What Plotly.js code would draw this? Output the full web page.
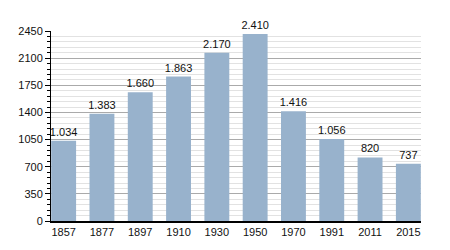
<!DOCTYPE html>
<html>
<head>
<meta charset="utf-8">
<script src="https://cdn.plot.ly/plotly-3.0.1.min.js"></script>
<style>html,body{margin:0;padding:0;background:#fff;}#chart{width:450px;height:250px;}</style>
</head>
<body>
<div id="chart"></div>
<script>
var years = ["1857","1877","1897","1910","1930","1950","1970","1991","2011","2015"];
var population = [1034, 1383, 1660, 1863, 2170, 2410, 1416, 1056, 820, 737];
var yTicks = [0, 350, 700, 1050, 1400, 1750, 2100, 2450];

var trace = {
  type: 'bar',
  x: years,
  y: population,
  marker: {color: '#98b2cc'},
  texttemplate: '%{y:,}',
  textposition: 'outside',
  constraintext: 'none',
  cliponaxis: false,
  textfont: {family: 'Liberation Sans, Arial, sans-serif', size: 11, color: '#111'},
  hoverinfo: 'none'
};

var layout = {
  width: 450, height: 250,
  margin: {l: 51, r: 29, t: 31, b: 29},
  separators: ',.',
  showlegend: false,
  bargap: 0.35,
  paper_bgcolor: '#fff',
  plot_bgcolor: '#fff',
  font: {family: 'Liberation Sans, Arial, sans-serif', size: 11, color: '#111'},
  xaxis: {
    type: 'category',
    range: [-0.33, 9.33],
    showline: true, linecolor: '#000', linewidth: 1.5,
    ticks: '', showgrid: false, zeroline: false,
    tickfont: {size: 11}
  },
  yaxis: {
    range: [0, 2450],
    tickvals: yTicks,
    ticktext: yTicks.map(String),
    showline: true, linecolor: '#000', linewidth: 1,
    ticks: 'outside', ticklen: 5, tickcolor: '#000',
    showgrid: true, gridcolor: '#aaa', gridwidth: 1,
    zeroline: false,
    tickfont: {size: 11},
    minor: {dtick: 70, tick0: 0, ticks: 'outside', ticklen: 3, tickcolor: '#000', showgrid: true, gridcolor: '#e2e2e2', gridwidth: 1}
  }
};

Plotly.newPlot('chart', [trace], layout, {displayModeBar: false, staticPlot: true});
</script>
</body>
</html>
